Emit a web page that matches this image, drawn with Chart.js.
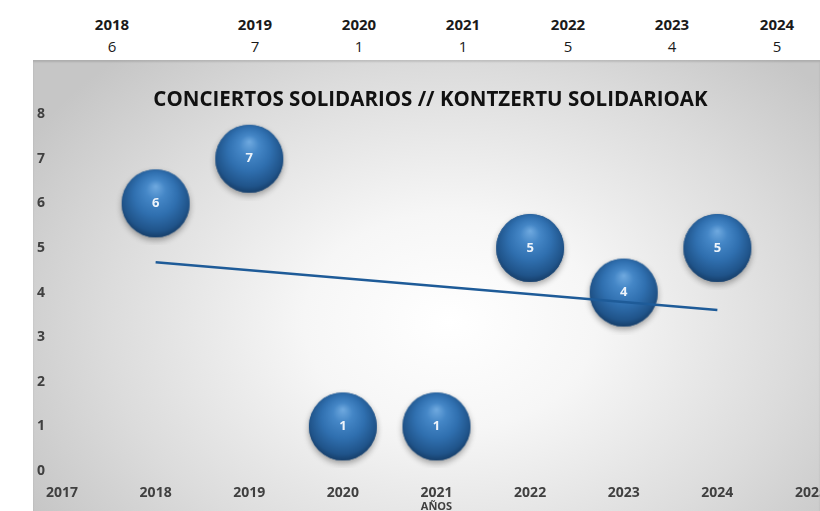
<!DOCTYPE html>
<html>
<head>
<meta charset="utf-8">
<script src="https://cdn.jsdelivr.net/npm/chart.js@4.4.1/dist/chart.umd.min.js"></script>
<style>
html, body { margin: 0; padding: 0; width: 820px; height: 511px; overflow: hidden; background: #fff; font-family: "Open Sans", sans-serif; }
#table { position: absolute; left: 0; top: 0; width: 820px; height: 60px; }
.cell { position: absolute; transform: translate(-50%, -50%); color: #1a1a1a; font-size: 15px; white-space: nowrap; }
.yr { font-weight: bold; }
#box {
  position: absolute; left: 33px; top: 60px; width: 787px; height: 451px;
  background: radial-gradient(ellipse 62% 80% at 53% 58%, #ffffff 0%, #f6f6f6 30%, #dcdcdc 70%, #c6c6c6 100%);
  box-shadow: inset 0 2px 2px rgba(0,0,0,0.12);
}
#chart { position: absolute; left: 18px; top: 60px; }
</style>
</head>
<body>
<div id="table"></div>
<div id="box"></div>
<canvas id="chart" width="823" height="453"></canvas>
<script>
// data
const years = [2018, 2019, 2020, 2021, 2022, 2023, 2024];
const conciertos = [6, 7, 1, 1, 5, 4, 5];
const trendYears = [2018, 2024];
const trendValues = [4.68, 3.61];
const xMin = 2017, xMax = 2025;
const yMin = 0, yMax = 8;
const chartTitle = "CONCIERTOS SOLIDARIOS // KONTZERTU SOLIDARIOAK";
const xTitle = "AÑOS";

// layout of the little table above the chart
const tableCols = [112, 255, 359, 463, 568, 672, 777];

const table = document.getElementById("table");
years.forEach((y, i) => {
  const a = document.createElement("div");
  a.className = "cell yr";
  a.style.left = tableCols[i] + "px";
  a.style.top = "24px";
  a.textContent = y;
  table.appendChild(a);

  const b = document.createElement("div");
  b.className = "cell";
  b.style.left = tableCols[i] + "px";
  b.style.top = "46px";
  b.textContent = conciertos[i];
  table.appendChild(b);
});

Chart.defaults.font.family = '"Open Sans", sans-serif';

// shaded blue ball used as point style
function makeSphere(r) {
  const pad = 8;
  const s = 2 * (r + pad);
  const c = document.createElement("canvas");
  c.width = s; c.height = s;
  const g = c.getContext("2d");
  const cx = s / 2, cy = s / 2;

  g.save();
  g.shadowColor = "rgba(0,0,0,0.35)";
  g.shadowBlur = 6;
  g.shadowOffsetY = 3;
  g.beginPath();
  g.arc(cx, cy, r, 0, Math.PI * 2);
  g.fillStyle = "#1f4f82";
  g.fill();
  g.restore();

  const grad = g.createRadialGradient(cx, cy - r * 0.5, 0, cx, cy - r * 0.1, r * 1.15);
  grad.addColorStop(0, "#70aae0");
  grad.addColorStop(0.25, "#4587c7");
  grad.addColorStop(0.55, "#3070b0");
  grad.addColorStop(0.85, "#20548a");
  grad.addColorStop(1, "#143962");
  g.beginPath();
  g.arc(cx, cy, r, 0, Math.PI * 2);
  g.fillStyle = grad;
  g.fill();
  return c;
}

const sphere = makeSphere(34);

const bubbleLabels = {
  id: "bubbleLabels",
  afterDatasetsDraw(chart) {
    const meta = chart.getDatasetMeta(1);
    const ctx = chart.ctx;
    ctx.save();
    ctx.font = 'bold 13px "Open Sans"';
    ctx.fillStyle = "#eef4fb";
    ctx.textAlign = "center";
    ctx.textBaseline = "middle";
    meta.data.forEach((pt, i) => {
      ctx.fillText(String(conciertos[i]), pt.x, pt.y);
    });
    ctx.restore();
  }
};

const tickFont = { size: 14, weight: "bold" };

new Chart(document.getElementById("chart"), {
  type: "scatter",
  data: {
    datasets: [
      {
        type: "line",
        data: trendYears.map((x, i) => ({ x: x, y: trendValues[i] })),
        borderColor: "#1e5b98",
        borderWidth: 2.5,
        pointRadius: 0,
        fill: false
      },
      {
        data: years.map((x, i) => ({ x: x, y: conciertos[i] })),
        pointStyle: sphere,
        pointRadius: 34,
        pointHoverRadius: 34
      }
    ]
  },
  options: {
    responsive: false,
    animation: false,
    events: [],
    layout: { autoPadding: false, padding: { left: 2, right: 0, top: 0, bottom: 0 } },
    plugins: {
      legend: { display: false },
      tooltip: { enabled: false },
      title: {
        display: true,
        text: chartTitle,
        color: "#111",
        font: { size: 20.5, weight: "bold" },
        padding: { top: 28, bottom: 1.5 }
      }
    },
    scales: {
      x: {
        type: "linear",
        min: xMin,
        max: xMax,
        grid: { display: false, drawTicks: false },
        border: { display: false },
        ticks: { stepSize: 1, padding: 14, color: "#404040", font: tickFont, callback: v => String(v) },
        title: { display: true, text: xTitle, color: "#404040", font: { size: 11, weight: "bold" }, padding: { top: -16, bottom: 0 } }
      },
      y: {
        min: yMin,
        max: yMax,
        grid: { display: false, drawTicks: false },
        border: { display: false },
        ticks: { stepSize: 1, padding: 17, color: "#404040", font: tickFont }
      }
    }
  },
  plugins: [bubbleLabels]
});
</script>
</body>
</html>
